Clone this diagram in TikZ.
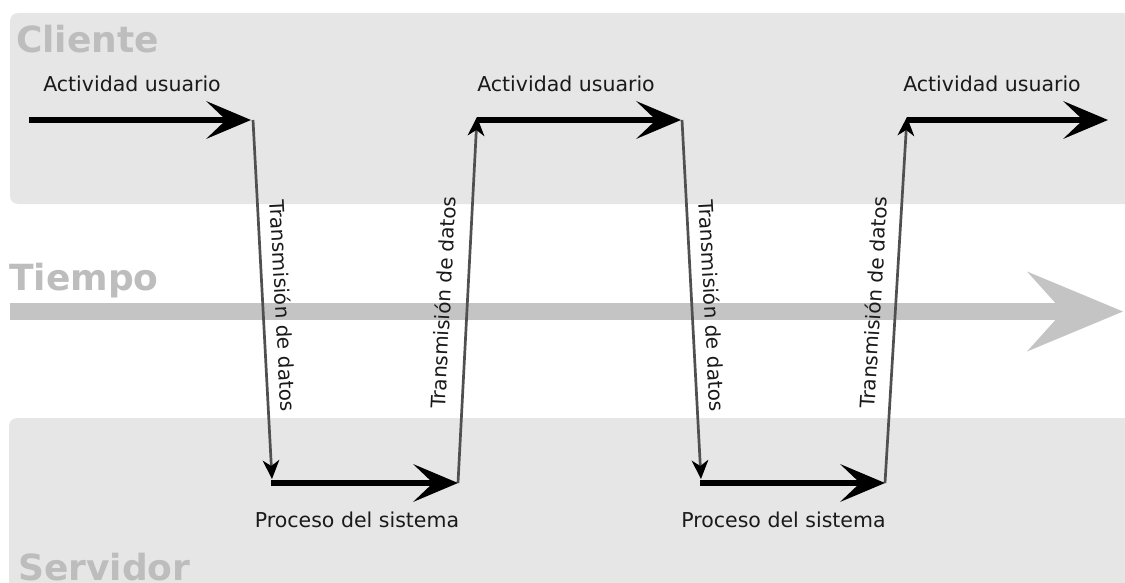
\documentclass[tikz,border=0pt]{standalone}
\usepackage{fontspec}
\setmainfont{DejaVu Sans}
\usetikzlibrary{arrows.meta}
\definecolor{bandfill}{HTML}{E6E6E6}
\definecolor{bandtxt}{HTML}{BDBDBD}
\definecolor{timec}{HTML}{C4C4C4}
\definecolor{transc}{HTML}{505050}
\definecolor{txtc}{HTML}{1A1A1A}
\tikzset{
  bandlabel/.style={inner sep=0pt, anchor=base west, text=bandtxt,
    font=\fontsize{36}{40}\selectfont\bfseries},
  actlabel/.style={inner sep=0pt, anchor=base, text=txtc,
    font=\fontsize{20.5}{24}\selectfont},
  flowarrow/.style={line width=6.5pt, draw=black,
    -{Stealth[length=45pt,width=38pt,inset=20pt,line width=0pt,color=black]}},
  transarrow/.style={line width=2.7pt, draw=transc,
    -{Stealth[length=19pt,width=17pt,inset=6pt,line width=0pt,color=black]}},
  translabel/.style={sloped, anchor=south, inner xsep=0pt, text=txtc,
    font=\fontsize{20}{24}\selectfont},
  timearrow/.style={line width=17pt, draw=timec,
    -{Stealth[length=96pt,width=80pt,inset=36pt,line width=0pt,color=timec]}}
}
\begin{document}
\begin{tikzpicture}[x=1pt,y=-1pt]
  \useasboundingbox (0,0) rectangle (1125,583);
  \clip (0,0) rectangle (1125,583);
  % bands
  \fill[bandfill, rounded corners=8pt] (10,13) rectangle (1140,204);
  \fill[bandfill, rounded corners=8pt] (9,418) rectangle (1140,600);
  \node[bandlabel] (cli) at (16,53) {Cliente};
  \node[bandlabel] (tie) at (9,290) {Tiempo};
  \node[bandlabel] (ser) at (18,580) {Servidor};
  % time arrow
  \coordinate (t0) at (10,311.5);
  \coordinate (t1) at (1123,311.5);
  \draw[timearrow] (t0) -- (t1);
  % key points
  \coordinate (s0) at (29,120);
  \coordinate (c1) at (251,120);
  \coordinate (c1t) at (253,120);
  \coordinate (d1) at (272,479);
  \coordinate (p1s) at (271,483);
  \coordinate (p1e) at (458,483);
  \coordinate (u1) at (477,117);
  \coordinate (c2s) at (477,120);
  \coordinate (c2e) at (681,120);
  \coordinate (c2t) at (682,120);
  \coordinate (d2) at (701,479);
  \coordinate (p2s) at (700,483);
  \coordinate (p2e) at (885,483);
  \coordinate (u2) at (907,117);
  \coordinate (c3s) at (907,120);
  \coordinate (c3e) at (1108,120);
  % transmissions
  \draw[transarrow] (c1t) -- node[translabel, pos=0.52, inner ysep=11pt] (tr1) {Transmisión de datos} (d1);
  \draw[transarrow] (p1e) -- node[translabel, pos=0.49, inner ysep=15pt] (tr2) {Transmisión de datos} (u1);
  \draw[transarrow] (c2t) -- node[translabel, pos=0.52, inner ysep=11pt] (tr3) {Transmisión de datos} (d2);
  \draw[transarrow] (p2e) -- node[translabel, pos=0.49, inner ysep=13pt] (tr4) {Transmisión de datos} (u2);
  % flows
  \draw[flowarrow] (s0) -- (c1);
  \draw[flowarrow] (p1s) -- (p1e);
  \draw[flowarrow] (c2s) -- (c2e);
  \draw[flowarrow] (p2s) -- (p2e);
  \draw[flowarrow] (c3s) -- (c3e);
  % labels
  \node[actlabel] (a1) at (132,92) {Actividad usuario};
  \node[actlabel] (a2) at (566,92) {Actividad usuario};
  \node[actlabel] (a3) at (992,92) {Actividad usuario};
  \node[actlabel] (pr1) at (357,527) {Proceso del sistema};
  \node[actlabel] (pr2) at (783.5,527) {Proceso del sistema};
\end{tikzpicture}
\end{document}
